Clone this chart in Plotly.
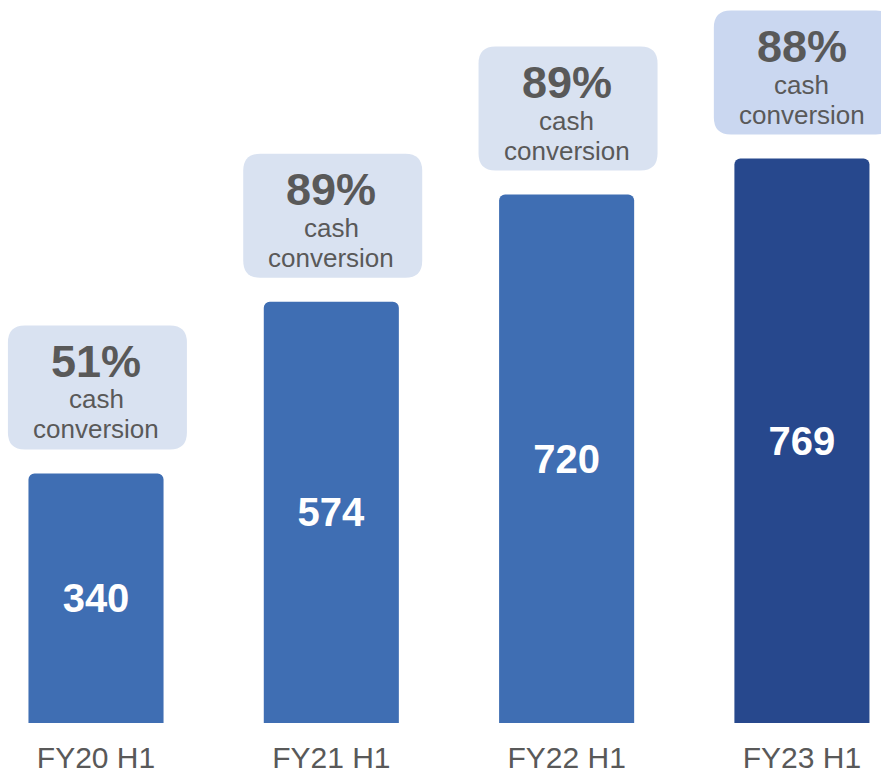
import plotly.graph_objects as go

# Half-year values and cash conversion rates
periods = ["FY20 H1", "FY21 H1", "FY22 H1", "FY23 H1"]
values = [340, 574, 720, 769]
conversion = ["51%", "89%", "89%", "88%"]

bar_colors = ["#3F6EB3", "#3F6EB3", "#3F6EB3", "#27488D"]
box_colors = ["#D9E2F1", "#D9E2F1", "#D9E2F1", "#CAD7F0"]
gray = "#595959"
font_family = "Liberation Sans, Arial, sans-serif"

fig = go.Figure()
fig.add_trace(go.Bar(
    x=list(range(len(periods))),
    y=values,
    width=0.574,
    marker=dict(color=bar_colors, line=dict(width=0)),
    text=[str(v) for v in values],
    textposition="inside",
    insidetextanchor="middle",
    textangle=0,
    textfont=dict(family=font_family, size=40, color="white", weight="bold"),
    hoverinfo="skip",
))

# Rounded callout boxes above each bar, sized in pixels and anchored on the bar top
W, H, GAP, R = 179, 124, 24, 17

def rounded_box_path(w, h, gap, r):
    x0, x1 = -w / 2, w / 2
    y0, y1 = gap, gap + h
    return (
        f"M {x0 + r} {y0} L {x1 - r} {y0} Q {x1} {y0} {x1} {y0 + r} "
        f"L {x1} {y1 - r} Q {x1} {y1} {x1 - r} {y1} "
        f"L {x0 + r} {y1} Q {x0} {y1} {x0} {y1 - r} "
        f"L {x0} {y0 + r} Q {x0} {y0} {x0 + r} {y0} Z"
    )

for i, (v, pct) in enumerate(zip(values, conversion)):
    fig.add_shape(
        type="path",
        xref="x", yref="y",
        xsizemode="pixel", ysizemode="pixel",
        xanchor=i + 0.006, yanchor=v,
        path=rounded_box_path(W, H, GAP, R),
        fillcolor=box_colors[i],
        line=dict(width=0),
        layer="below",
    )
    top_offset = GAP + H
    fig.add_annotation(
        x=i, y=v, xref="x", yref="y", text=f"<b>{pct}</b>",
        showarrow=False, yshift=top_offset - 36,
        font=dict(family=font_family, size=45, color=gray),
    )
    fig.add_annotation(
        x=i, y=v, xref="x", yref="y", text="cash",
        showarrow=False, yshift=top_offset - 74,
        font=dict(family=font_family, size=26, color=gray),
    )
    fig.add_annotation(
        x=i, y=v, xref="x", yref="y", text="conversion",
        showarrow=False, yshift=top_offset - 104,
        font=dict(family=font_family, size=26, color=gray),
    )

fig.update_layout(
    template="none",
    width=881, height=777,
    margin=dict(l=0, r=0, t=0, b=54),
    paper_bgcolor="white",
    plot_bgcolor="white",
    showlegend=False,
    barcornerradius=6,
    xaxis=dict(
        range=[-0.408, 3.336],
        tickmode="array",
        tickvals=list(range(len(periods))),
        ticktext=periods,
        tickfont=dict(family=font_family, size=30, color=gray),
        showgrid=False, zeroline=False, showline=False, ticks="",
        automargin=False,
        ticklabelstandoff=14,
    ),
    yaxis=dict(
        range=[0, 985],
        visible=False,
        showgrid=False, zeroline=False,
        automargin=False,
    ),
)

fig.write_html("out.html")
